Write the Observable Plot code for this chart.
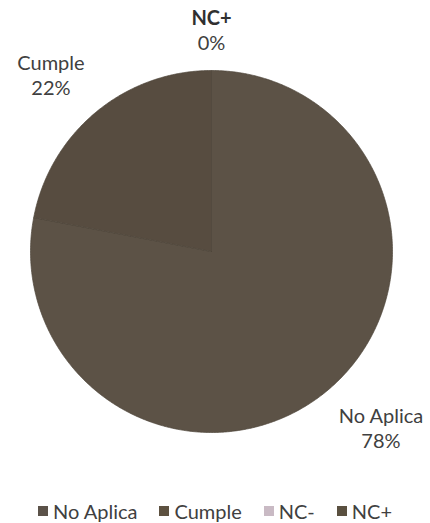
<!DOCTYPE html>
<html><head><meta charset="utf-8">
<script src="https://cdn.jsdelivr.net/npm/d3@7"></script>
<script src="https://cdn.jsdelivr.net/npm/@observablehq/plot@0.6"></script>
<style>
body{margin:0;background:#fff;font-family:Lato,sans-serif;width:430px;height:523px;overflow:hidden;}
#legend{display:flex;justify-content:center;align-items:center;height:26px;font-size:20px;color:#404040;font-family:Lato,sans-serif;}
#legend .item{display:flex;align-items:center;margin:0 11px;}
#legend .sw{width:10px;height:10px;margin-right:5px;}
</style></head><body><div id="chart"></div><div id="legend"></div><script>
// ---- data ----
const categories = ["No Aplica", "Cumple", "NC-", "NC+"];
const percents = [78, 22, 0, 0];
const sliceColors = ["#5c5246", "#574c40", "#c7b8c2", "#594e40"];
const legendColors = ["#5b5249", "#5d5140", "#c9bac4", "#5a5040"];
const shownLabels = ["No Aplica", "Cumple", "NC+"];
const boldLabels = ["NC+"];

// ---- geometry from data ----
const R = 181; // px per unit radius
const rows = categories.map((c, i) => ({cat: c, value: percents[i]}));
const arcs = d3.pie().sort(null).value(d => d.value).startAngle(0).endAngle(2 * Math.PI)(rows);

const pts = [];
arcs.filter(a => a.endAngle > a.startAngle).forEach(a => {
  pts.push({cat: a.data.cat, x: 0, y: 0});
  const n = Math.max(2, Math.ceil((a.endAngle - a.startAngle) / (Math.PI / 360)));
  for (let k = 0; k <= n; k++) {
    const t = a.startAngle + (a.endAngle - a.startAngle) * k / n;
    pts.push({cat: a.data.cat, x: Math.sin(t), y: Math.cos(t)});
  }
  pts.push({cat: a.data.cat, x: 0, y: 0});
});

const ctx = document.createElement("canvas").getContext("2d");
function textW(s, bold) { ctx.font = (bold ? "bold " : "") + "20px Lato"; return ctx.measureText(s).width; }

const labels = arcs.filter(a => shownLabels.includes(a.data.cat)).map(a => {
  const m = (a.startAngle + a.endAngle) / 2;
  const sx = Math.sin(m), cy = Math.cos(m);
  const ax = sx * 1.1, ay = cy * 1.1; // anchor just outside the edge
  const name = a.data.cat, pct = Math.round(a.data.value) + "%";
  const bold = boldLabels.includes(name);
  const w = Math.max(textW(name, bold), textW(pct, false)) / R;
  const cx = Math.abs(sx) < 0.1 ? ax : (sx < 0 ? ax - w / 2 : ax + w / 2);
  let nameY, pctY;
  if (cy >= -0.1) { pctY = ay + 9 / R; nameY = ay + 34 / R; }
  else { nameY = ay - 12 / R; pctY = ay - 37 / R; }
  return {name, pct, bold, cx, nameY, pctY};
});

const chart = Plot.plot({
  width: 430, height: 498, margin: 0,
  x: {domain: [-1, 1], range: [30, 392], axis: null},
  y: {domain: [-1, 1], range: [432, 70], axis: null},
  color: {domain: categories, range: sliceColors},
  style: {fontFamily: "Lato, sans-serif", background: "#fff"},
  marks: [
    Plot.line(pts, {x: "x", y: "y", z: "cat", fill: "cat", stroke: "#4e453a", strokeWidth: 0.7, curve: "linear"}),
    Plot.text(labels.filter(d => !d.bold), {x: "cx", y: "nameY", text: "name", fontSize: 20, fill: "#404040", textAnchor: "middle", lineAnchor: "middle"}),
    Plot.text(labels.filter(d => d.bold), {x: "cx", y: "nameY", text: "name", fontSize: 20, fontWeight: "bold", fill: "#303030", textAnchor: "middle", lineAnchor: "middle"}),
    Plot.text(labels, {x: "cx", y: "pctY", text: "pct", fontSize: 20, fill: "#404040", textAnchor: "middle", lineAnchor: "middle"})
  ]
});
document.getElementById("chart").appendChild(chart);

const lg = document.getElementById("legend");
categories.forEach((c, i) => {
  const it = document.createElement("div"); it.className = "item";
  const sw = document.createElement("div"); sw.className = "sw"; sw.style.background = legendColors[i];
  const tx = document.createElement("span"); tx.textContent = c;
  it.appendChild(sw); it.appendChild(tx); lg.appendChild(it);
});
</script></body></html>
